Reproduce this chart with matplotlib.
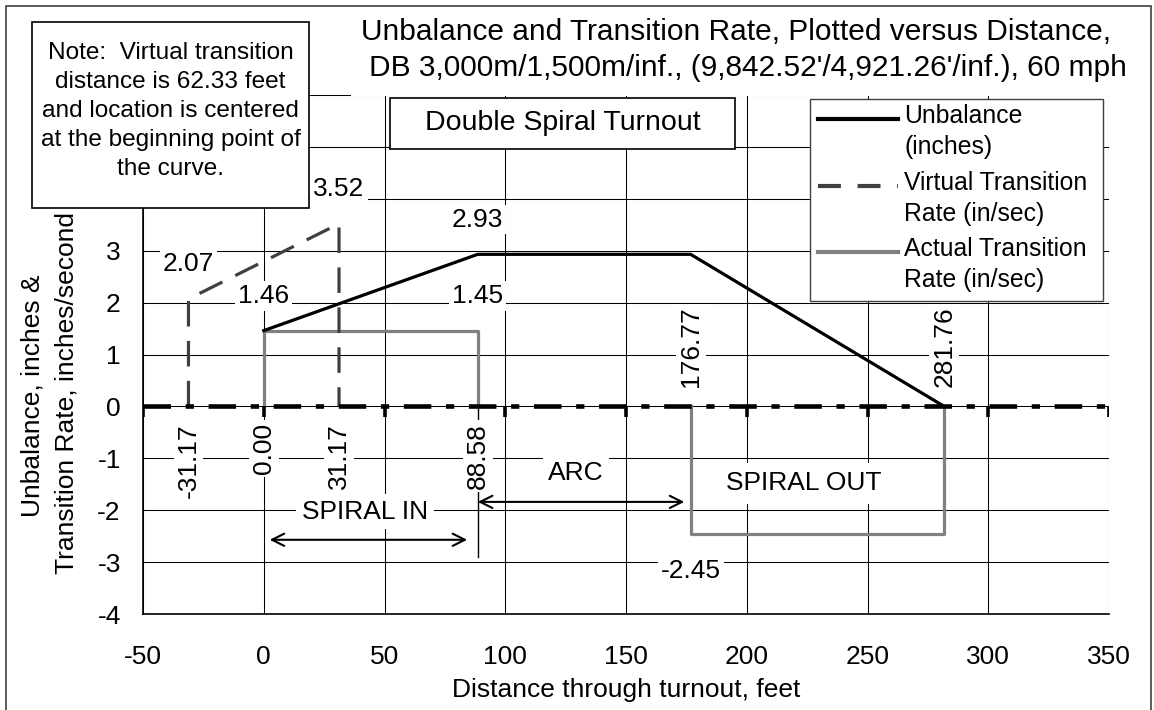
import matplotlib
matplotlib.use("Agg")
import matplotlib.pyplot as plt
from matplotlib.patches import Rectangle
from matplotlib.lines import Line2D

plt.rcParams['font.family'] = ['Liberation Sans', 'DejaVu Sans']
plt.rcParams['axes.unicode_minus'] = False

W, H = 1154, 710
FS = 19

# unbalance (inches)
unb_x = [0.0, 88.58, 176.77, 281.76]
unb_y = [1.46, 2.93, 2.93, 0.0]

# virtual transition rate (in/sec)
virt_x = [-31.17, -31.17, 31.17, 31.17]
virt_y = [0.0, 2.07, 3.52, 0.0]

# actual transition rate (in/sec)
act_in_x = [0.0, 0.0, 88.58, 88.58]
act_in_y = [0.0, 1.45, 1.45, 0.0]
act_out_x = [176.77, 176.77, 281.76, 281.76]
act_out_y = [0.0, -2.45, -2.45, 0.0]

x_ticks = [-50, 0, 50, 100, 150, 200, 250, 300, 350]
y_ticks = [-4, -3, -2, -1, 0, 1, 2, 3, 4, 5, 6]

# point labels: (x, y, text)
top_labels = [(31.17, 3.52, '3.52'), (-31.17, 2.07, '2.07'), (0.0, 1.46, '1.46'),
              (88.58, 1.45, '1.45'), (88.58, 2.93, '2.93')]
down_labels = [(-31.17, '-31.17'), (0.0, '0.00'), (31.17, '31.17'), (88.58, '88.58')]
up_labels = [(176.77, '176.77'), (281.76, '281.76')]


def px(x, y):
    return x / W, 1 - y / H


fig = plt.figure(figsize=(W / 100, H / 100), dpi=100)
ax = fig.add_axes([143 / W, 1 - 614 / H, 966 / W, 519 / H])
ax.set_xlim(-50, 350)
ax.set_ylim(-4, 6)
ax.set_xticks(x_ticks)
ax.set_yticks(y_ticks)
ax.set_yticklabels([str(v) if v <= 3 else '' for v in y_ticks])
ax.tick_params(length=0, labelsize=FS)
ax.tick_params(axis='x', pad=22)
ax.tick_params(axis='y', pad=16)
ax.grid(True, color='black', lw=0.75)
ax.set_axisbelow(True)
for s in ['top', 'right']:
    ax.spines[s].set_visible(False)
for s in ['left', 'bottom']:
    ax.spines[s].set_linewidth(1.2)

# zero axis, dash-dot, with tick marks
ax.axhline(0, color='black', lw=3.3, dashes=(6.0, 3.2, 1.8, 3.2), zorder=4)
for xv in x_ticks:
    ax.plot([xv, xv], [0, -0.2], color='black', lw=2.6, solid_capstyle='butt', zorder=4)

ax.plot(act_in_x, act_in_y, color='#808080', lw=2.3, zorder=3)
ax.plot(act_out_x, act_out_y, color='#808080', lw=2.3, zorder=3)
ax.plot(virt_x, virt_y, color='#404040', lw=2.3, dashes=(8, 4.5), zorder=3)
ax.plot(unb_x, unb_y, color='black', lw=2.3, zorder=5)

bg = dict(facecolor='white', edgecolor='none', pad=2)
for x, y, t in top_labels:
    ax.text(x, y + 0.67, t, ha='center', va='center', fontsize=FS, bbox=bg, zorder=6)
ax.text(176.77, -3.17, '-2.45', ha='center', va='center', fontsize=FS, bbox=bg, zorder=6)
for x, t in down_labels:
    ax.text(x, -0.32, t, ha='center', va='top', rotation=90, fontsize=FS, bbox=bg, zorder=6)
for x, t in up_labels:
    ax.text(x, 0.37, t, ha='center', va='bottom', rotation=90, fontsize=FS, bbox=bg, zorder=6)

# section markers
ax.plot([88.58, 88.58], [0, -2.9], color='black', lw=1.0, zorder=2)
arrow = dict(arrowstyle='<->', color='black', lw=1.5, mutation_scale=22)
ax.annotate('', xy=(1.3, -2.57), xytext=(85.4, -2.57), arrowprops=arrow, zorder=6)
ax.annotate('', xy=(87.5, -1.84), xytext=(175.3, -1.84), arrowprops=arrow, zorder=6)
bg2 = dict(facecolor='white', edgecolor='none', pad=4)
ax.text(41.9, -2.03, 'SPIRAL IN', ha='center', va='center', fontsize=FS, bbox=bg2, zorder=6)
ax.text(129.3, -1.29, 'ARC', ha='center', va='center', fontsize=FS, bbox=bg2, zorder=6)
ax.text(223.8, -1.48, 'SPIRAL OUT', ha='center', va='center', fontsize=FS,
        bbox=dict(facecolor='white', edgecolor='none', pad=6), zorder=6)

fig.text(*px(626, 690), 'Distance through turnout, feet', ha='center', va='center', fontsize=FS)
fig.text(*px(33, 396), 'Unbalance, inches &', rotation=90, ha='center', va='center', fontsize=FS)
fig.text(*px(67, 393), 'Transition Rate, inches/second', rotation=90, ha='center',
         va='center', fontsize=FS)

# outer frame
fig.add_artist(Rectangle(px(6, 716), (1151 - 6) / W, 710 / H, facecolor='none',
                         edgecolor='#404040', lw=1.2, zorder=1))

# title area
fig.add_artist(Rectangle(px(351, 96), (1145 - 351) / W, 89 / H, facecolor='white',
                         edgecolor='none', zorder=2))
fig.text(*px(736, 32), 'Unbalance and Transition Rate, Plotted versus Distance,',
         ha='center', va='center', fontsize=21.5)
fig.text(*px(748, 68), "DB 3,000m/1,500m/inf., (9,842.52'/4,921.26'/inf.), 60 mph",
         ha='center', va='center', fontsize=21.5)

# note box
fig.add_artist(Rectangle(px(32, 208), 277 / W, 186 / H, facecolor='white',
                         edgecolor='black', lw=1.2, zorder=4))
fig.text(*px(170.5, 111), 'Note:  Virtual transition\ndistance is 62.33 feet\n'
         'and location is centered\nat the beginning point of\nthe curve.',
         ha='center', va='center', fontsize=17.6, linespacing=1.42, zorder=5)

# title box
fig.add_artist(Rectangle(px(390, 149), 345 / W, 51 / H, facecolor='white',
                         edgecolor='black', lw=1.2, zorder=4))
fig.text(*px(563, 123), 'Double Spiral Turnout', ha='center', va='center', fontsize=20.5, zorder=5)

# legend
fig.add_artist(Rectangle(px(810, 301), 293 / W, 202 / H, facecolor='white',
                         edgecolor='#404040', lw=1.0, zorder=4))
leg = [('black', 'solid', 'Unbalance\n(inches)', 119),
       ('#404040', 'dashed', 'Virtual Transition\nRate (in/sec)', 186),
       ('#808080', 'solid', 'Actual Transition\nRate (in/sec)', 252)]
for col, ls, lab, yy in leg:
    x0, y0 = px(818, yy)
    x1, _ = px(898, yy)
    if ls == 'dashed':
        ln = Line2D([x0, x1], [y0, y0], color=col, lw=3, dashes=(5.5, 4), zorder=5)
    else:
        ln = Line2D([x0, x1], [y0, y0], color=col, lw=3, zorder=5)
    fig.add_artist(ln)
    fig.text(*px(904, yy - 15), lab, ha='left', va='top', fontsize=17.8,
             linespacing=1.37, zorder=5)

fig.savefig('out.png', dpi=100)
